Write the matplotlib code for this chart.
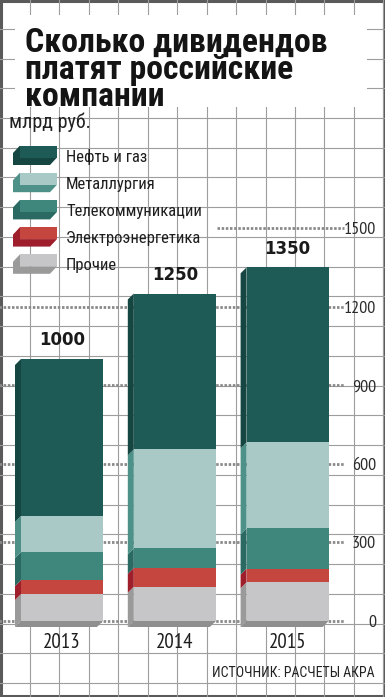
import matplotlib
matplotlib.use("Agg")
import matplotlib.pyplot as plt
from matplotlib.patches import Polygon, Rectangle

# data (млрд руб.)
years = ["2013", "2014", "2015"]
other = [103, 131, 148]
power = [53, 72, 52]
telecom = [107, 74, 154]
metals = [138, 378, 328]
oil = [599, 595, 668]
totals = [1000, 1250, 1350]
yticks = [0, 300, 600, 900, 1200, 1500]

labels = ["Нефть и газ", "Металлургия", "Телекоммуникации", "Электроэнергетика", "Прочие"]
front = ["#1f5b56", "#a8c9c5", "#3f867d", "#c5463e", "#c6c6c8"]
side = ["#164642", "#4e9189", "#2a6a62", "#9e1f2b", "#9a9a9b"]

NARROW = ["Roboto Condensed", "DejaVu Sans"]
DIGITS = ["PT Sans Narrow", "DejaVu Sans"]
HEAVY = ["Roboto Condensed", "DejaVu Sans"]

W, H = 385, 697
fig = plt.figure(figsize=(W / 100, H / 100), dpi=100)
fig.patch.set_facecolor("white")
r = fig.canvas.get_renderer()


def fit_size(s, target, family=NARROW, weight="normal", base=12):
    # font size that makes string s about target px wide
    t = fig.text(0, 0, s, fontsize=base, family=family, fontweight=weight)
    w = t.get_window_extent(r).width
    t.remove()
    return base * target / w


# background: graph paper, frame, title box
bg = fig.add_axes([0, 0, 1, 1], zorder=0)
bg.set_xlim(0, W)
bg.set_ylim(H, 0)
bg.axis("off")
gx = 30.0
while gx < W:
    bg.axvline(gx, color="#9d9d9d", lw=0.8)
    gx += 29.45
gy = 118.0 - 3 * 29.74
while gy < H:
    bg.axhline(gy, color="#9d9d9d", lw=0.8)
    gy += 29.74
bg.add_patch(Rectangle((1, 1), W - 2, H - 2, fill=False, ec="#5a5a5a", lw=2.2))
bg.add_patch(Rectangle((15, 15), 352, 92, fc="white", ec="none", zorder=2))

title = ["Сколько дивидендов", "платят российские", "компании"]
tsize = fit_size(title[0], 303, HEAVY, "bold")
for i, line in enumerate(title):
    bg.text(25, 52 + i * 27, line, fontsize=tsize, fontweight="bold", family=HEAVY,
            color="#141414", va="baseline", ha="left", zorder=3)

bg.text(9, 122, "млрд руб.", fontsize=fit_size("млрд руб.", 82), family=NARROW,
        color="#222222", va="center", ha="left", zorder=3)
bg.text(375, 673, "ИСТОЧНИК: РАСЧЕТЫ АКРА", fontsize=fit_size("ИСТОЧНИК: РАСЧЕТЫ АКРА", 162),
        family=NARROW, color="#222222", va="center", ha="right", zorder=3)

# legend bricks
lsize = fit_size(labels[0], 81)
for i, (lab, fc, sc) in enumerate(zip(labels, front, side)):
    c = 157 + i * 27.2
    x0, x1, t, b = 20, 57, c - 11.5, c + 0.5
    d, e = 7, 7.5
    bg.add_patch(Polygon([(x0, t), (x0, b), (x1, b), (x1 - d, b + e), (x0 - d, b + e), (x0 - d, t + e)],
                         closed=True, fc=sc, ec="none", zorder=3))
    bg.add_patch(Rectangle((x0, t), x1 - x0, b - t, fc=fc, ec="none", zorder=4))
    bg.text(66, c, lab, fontsize=lsize, family=NARROW, color="#1e1e1e",
            va="center", ha="left", zorder=4)

# bar chart
ax = fig.add_axes([5.6 / W, 76 / H, 338.4 / W, 393 / H], zorder=1)
ax.patch.set_alpha(0)
ax.set_xlim(-0.5, 2.5)
ax.set_ylim(0, 1500)
for s in ax.spines.values():
    s.set_visible(False)

for v in yticks:
    xmin = 0.625 if v == 1500 else -0.02
    ax.axhline(v, xmin=xmin, xmax=1.0, color="#8a8a8a", lw=2.0, ls=(0, (0.9, 0.6)),
               clip_on=False, zorder=1)

width = 0.727
dx = 6 / 112.8
dy = 6 / (393 / 1500)
stack = [other, power, telecom, metals, oil]
fcol = front[::-1]
scol = side[::-1]
x = list(range(len(years)))
base = [0] * len(years)
for vals, fc, sc in zip(stack, fcol, scol):
    ax.bar(x, vals, width, bottom=base, color=fc, zorder=3)
    for xi, b, v in zip(x, base, vals):
        L = xi - width / 2
        ax.add_patch(Polygon([(L, b), (L, b + v), (L - dx, b + v - dy), (L - dx, b - dy)],
                             closed=True, fc=sc, ec="none", zorder=2, clip_on=False))
    base = [b + v for b, v in zip(base, vals)]

for xi in x:
    L, R = xi - width / 2, xi + width / 2
    ax.add_patch(Polygon([(L, 0), (R, 0), (R - dx, -dy), (L - dx, -dy)],
                         closed=True, fc="#8f8f90", ec="none", zorder=2, clip_on=False))

for xi, t in zip(x, totals):
    ax.annotate(str(t), (xi, t), xytext=(0, 7), textcoords="offset points",
                ha="center", va="bottom", fontsize=12, fontweight="bold",
                family="DejaVu Sans", color="#1a1a1a", zorder=5)

ax.set_xticks(x, years)
ax.set_yticks(yticks, [str(v) for v in yticks])
ax.yaxis.tick_right()
ax.tick_params(axis="x", length=0, pad=9, labelsize=15, labelcolor="#1e1e1e")
ax.tick_params(axis="y", length=0, pad=23, labelsize=13, labelcolor="#2a2a2a")
for lab in ax.get_xticklabels() + ax.get_yticklabels():
    lab.set_family(DIGITS)
for lab in ax.get_yticklabels():
    lab.set_ha("right")

fig.savefig("out.png", dpi=100)
